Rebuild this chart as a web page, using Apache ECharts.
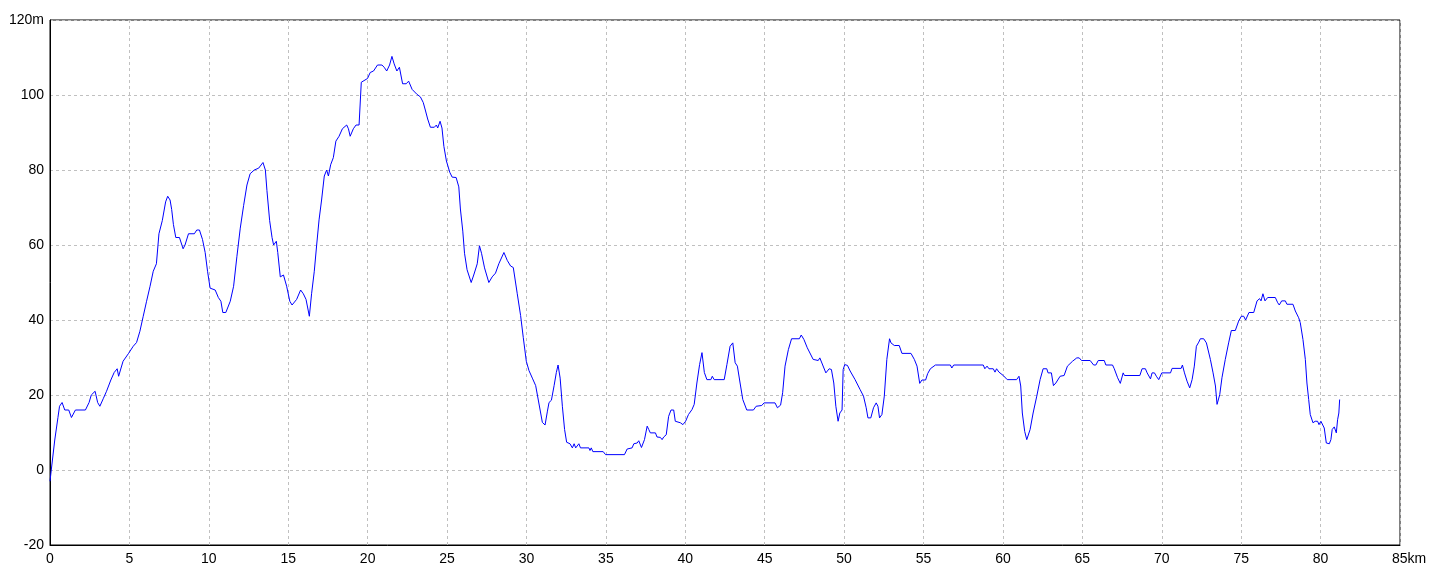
<!DOCTYPE html>
<html>
<head>
<meta charset="utf-8">
<script src="https://cdn.jsdelivr.net/npm/echarts@6/dist/echarts.min.js"></script>
<style>
  html, body { margin: 0; padding: 0; background: #fff; }
  #chart { width: 1440px; height: 576px; }
</style>
</head>
<body>
<div id="chart"></div>
<script>
// Distance along route (km)
const distKm = [
  0, 0.08, 0.3, 0.5, 0.6, 0.76, 0.93, 1.18, 1.35, 1.45,
  1.6, 2.23, 2.46, 2.6, 2.84, 3.0, 3.14, 3.35, 3.56, 3.83,
  4.04, 4.23, 4.32, 4.44, 4.6, 4.93, 5.24, 5.45, 5.66, 5.87,
  6.08, 6.3, 6.5, 6.7, 6.86, 7.07, 7.28, 7.41, 7.56, 7.66,
  7.77, 7.92, 8.15, 8.38, 8.5, 8.72, 9.09, 9.24, 9.41, 9.6,
  9.77, 9.92, 10.08, 10.4, 10.6, 10.76, 10.88, 11.07, 11.35, 11.56,
  11.77, 11.98, 12.19, 12.4, 12.6, 12.86, 13.14, 13.41, 13.56, 13.66,
  13.83, 13.98, 14.08, 14.25, 14.34, 14.5, 14.7, 14.9, 15.1, 15.24,
  15.53, 15.78, 15.95, 16.12, 16.33, 16.47, 16.64, 16.79, 16.94, 17.1,
  17.27, 17.42, 17.53, 17.67, 17.84, 18.0, 18.2, 18.41, 18.68, 18.79,
  18.9, 19.1, 19.27, 19.46, 19.6, 19.99, 20.16, 20.37, 20.62, 20.9,
  21.04, 21.2, 21.38, 21.53, 21.67, 21.84, 22.0, 22.2, 22.43, 22.58,
  22.8, 23.1, 23.32, 23.5, 23.63, 23.78, 23.95, 24.2, 24.33, 24.41,
  24.56, 24.68, 24.8, 24.96, 25.17, 25.32, 25.57, 25.74, 25.84, 25.99,
  26.1, 26.26, 26.52, 26.68, 26.9, 27.04, 27.17, 27.36, 27.63, 27.84,
  28.05, 28.26, 28.58, 28.79, 29.0, 29.17, 29.42, 29.63, 29.8, 29.99,
  30.16, 30.37, 30.58, 30.79, 31.0, 31.17, 31.32, 31.42, 31.57, 31.74,
  31.88, 31.99, 32.12, 32.26, 32.4, 32.53, 32.74, 32.89, 33.0, 33.1,
  33.3, 33.4, 33.93, 34.0, 34.08, 34.18, 34.83, 34.98, 36.17, 36.34,
  36.65, 36.76, 36.97, 37.07, 37.24, 37.43, 37.6, 37.7, 37.8, 38.12,
  38.22, 38.43, 38.54, 38.64, 38.8, 38.95, 39.1, 39.27, 39.37, 39.69,
  39.85, 40.02, 40.2, 40.42, 40.56, 40.73, 40.9, 41.05, 41.2, 41.36,
  41.61, 41.7, 41.82, 42.45, 42.62, 42.82, 42.99, 43.14, 43.28, 43.45,
  43.62, 43.87, 44.29, 44.46, 44.81, 44.96, 45.65, 45.8, 46.0, 46.13,
  46.28, 46.49, 46.69, 47.18, 47.3, 47.47, 47.68, 48.05, 48.37, 48.47,
  48.58, 48.85, 49.06, 49.2, 49.35, 49.48, 49.62, 49.73, 49.87, 49.94,
  50.04, 50.21, 50.38, 50.69, 51.0, 51.22, 51.39, 51.5, 51.68, 51.85,
  52.02, 52.13, 52.23, 52.38, 52.53, 52.69, 52.86, 52.95, 53.16, 53.47,
  53.64, 54.21, 54.42, 54.59, 54.76, 54.9, 55.13, 55.26, 55.43, 55.75,
  56.69, 56.78, 56.9, 58.76, 58.86, 59.0, 59.12, 59.39, 59.5, 59.6,
  59.75, 60.02, 60.27, 60.86, 61.01, 61.12, 61.22, 61.37, 61.5, 61.71,
  61.9, 62.13, 62.34, 62.53, 62.76, 62.84, 63.05, 63.18, 63.33, 63.6,
  63.85, 64.06, 64.38, 64.65, 64.8, 64.95, 65.49, 65.58, 65.71, 65.85,
  66.0, 66.38, 66.48, 66.9, 67.01, 67.22, 67.39, 67.57, 67.65, 68.62,
  68.76, 68.97, 69.08, 69.18, 69.29, 69.39, 69.54, 69.66, 69.81, 70.0,
  70.55, 70.65, 71.22, 71.3, 71.43, 71.59, 71.76, 71.91, 72.05, 72.18,
  72.33, 72.43, 72.64, 72.81, 72.91, 73.06, 73.23, 73.38, 73.48, 73.54,
  73.65, 73.79, 74.0, 74.21, 74.38, 74.63, 74.84, 75.01, 75.16, 75.28,
  75.49, 75.79, 76.0, 76.16, 76.25, 76.37, 76.5, 76.67, 77.15, 77.3,
  77.4, 77.55, 77.78, 77.88, 78.26, 78.41, 78.62, 78.72, 78.89, 79.04,
  79.14, 79.25, 79.35, 79.52, 79.66, 79.81, 79.9, 80.02, 80.13, 80.23,
  80.36, 80.55, 80.65, 80.73, 80.86, 80.99, 81.07, 81.15, 81.2
];

// Elevation (m)
const elevM = [
  -3, 0, 8, 14, 17, 18, 16, 16, 14, 14,
  16, 16, 18, 20, 21, 18, 17, 19, 21, 24,
  26, 27, 25, 25.5, 29, 31, 33, 34, 37, 41,
  45, 49, 53, 55, 63, 66.5, 71.5, 73, 72, 69.5,
  65.5, 62, 62, 59, 60, 63, 63, 64, 64, 61.5,
  58, 53, 48.5, 48, 46, 45, 42, 42, 45, 49,
  57, 64.5, 70.5, 76, 79, 80, 80.5, 82, 80, 74.5,
  66.5, 62, 60, 61, 58, 51.5, 52, 49, 45, 44,
  45.5, 48, 47, 45.5, 41, 47, 53, 60, 66.7, 72,
  78.4, 80, 78.4, 81.4, 83.3, 87.7, 89, 91, 92, 91,
  89, 91, 92, 92, 103.4, 104.4, 106, 106.4, 108, 108,
  107.4, 106.4, 108, 110.3, 108.3, 106.4, 107.4, 103, 103, 103.7,
  101.5, 100.2, 99.5, 98, 96, 93.6, 91.4, 91.4, 92, 91.2,
  93, 91.2, 86.3, 82.4, 79.4, 78.1, 78, 75.5, 69.6, 63.7,
  57.8, 53.4, 50, 52, 55, 59.8, 57.8, 53.9, 50, 51.5,
  52.5, 55, 58, 55.9, 54.4, 54, 47, 41.2, 35.3, 29,
  26.5, 24.5, 22.5, 17.6, 12.7, 12, 15.7, 18, 18.6, 22.5,
  26, 28, 24.5, 17, 10.8, 7.4, 7, 5.9, 7, 5.9,
  7, 5.9, 5.9, 5.2, 5.9, 4.9, 4.9, 4.1, 4.1, 5.6,
  5.9, 7, 7.2, 7.8, 6, 8.1, 11.7, 10.8, 9.9, 9.9,
  8.8, 8.7, 8.1, 8.8, 9.4, 14.3, 16, 16, 13, 12.6,
  12.1, 13, 14.8, 16.1, 17.5, 23.2, 28.1, 31.3, 26, 24.1,
  24.1, 25, 24.1, 24.1, 28.1, 33, 33.9, 28.6, 27.7, 23.2,
  18.8, 16, 16, 17, 17.2, 17.9, 17.9, 16.6, 17.3, 20.6,
  27.7, 32.1, 35, 35, 36, 34.8, 32.6, 29.5, 29.2, 29.9,
  29.5, 25.9, 27, 26.8, 23.2, 17, 13, 15.2, 16, 26.8,
  28.1, 27.9, 26.4, 24.1, 21.5, 19.7, 16.6, 13.9, 13.9, 16.6,
  17.9, 17, 13.9, 14.8, 19.7, 29.5, 35, 33.9, 33.2, 33.2,
  31.1, 31.1, 29.5, 27.7, 23.1, 24, 24, 25.7, 27, 28,
  28, 27.2, 28, 28, 27, 27.7, 27, 27, 26.1, 27,
  26.1, 25.2, 24.1, 24.1, 25, 22.4, 15.2, 10.3, 8.1, 10.8,
  15.2, 19.7, 24.1, 27, 27, 25.9, 25.9, 22.5, 23.2, 25,
  25.2, 27.7, 29, 29.9, 29.9, 29.2, 29.2, 29.7, 28, 28,
  29.2, 29.2, 28, 28, 27, 24.6, 23.1, 25.9, 25.2, 25.2,
  27, 27, 25.9, 25.9, 24.3, 25.9, 25.9, 25, 24.1, 25.9,
  25.9, 27.1, 27.1, 28, 25.9, 23.7, 21.9, 24.1, 27.7, 33,
  34.1, 35, 35, 33.9, 33.9, 29.5, 25.9, 22.4, 17.5, 17,
  20.1, 24.6, 29.5, 33.9, 37.2, 37.2, 39.7, 41, 41, 40,
  42, 42, 45.1, 45.7, 45.1, 47, 45.1, 46, 46, 44.6,
  44, 45.1, 45.1, 44.2, 44.2, 42.4, 40.6, 39.3, 34.8, 29.5,
  23.2, 18.8, 14.8, 12.6, 13, 13, 12.1, 13, 13.4, 11.2,
  7.2, 7, 8.1, 10.8, 11.5, 9.9, 13.4, 15.2, 18.8
];

// Axis ranges / tick settings
const xTicks = { min: 0, max: 85, step: 5, unit: 'km' };
const yTicks = { min: -20, max: 120, step: 20, unit: 'm' };

const points = distKm.map((d, i) => [d, elevM[i]]);

const chart = echarts.init(document.getElementById('chart'), null, { renderer: 'canvas' });
const labelFont = { fontFamily: 'Liberation Sans', fontSize: 14, color: '#000' };
const gridDash = { color: '#c0c0c0', type: [3, 3], width: 1 };

chart.setOption({
  animation: false,
  backgroundColor: '#fff',
  grid: {
    left: 50, right: 40, top: 20, bottom: 31,
    show: true, borderColor: '#000', borderWidth: 1, backgroundColor: '#fff'
  },
  xAxis: {
    type: 'value',
    min: xTicks.min, max: xTicks.max, interval: xTicks.step,
    axisLine: { show: true, onZero: false, lineStyle: { color: '#000', width: 1 } },
    axisTick: { show: false },
    axisLabel: Object.assign({}, labelFont, {
      margin: 7,
      formatter: v => v === xTicks.max ? '{pad|}' + v + xTicks.unit : String(v),
      rich: { pad: { width: 18 } }
    }),
    splitLine: { show: true, lineStyle: gridDash }
  },
  yAxis: {
    type: 'value',
    min: yTicks.min, max: yTicks.max, interval: yTicks.step,
    axisLine: { show: true, onZero: false, lineStyle: { color: '#000', width: 1 } },
    axisTick: { show: false },
    axisLabel: Object.assign({}, labelFont, {
      margin: 6,
      formatter: v => v === yTicks.max ? v + yTicks.unit : String(v)
    }),
    splitLine: { show: true, lineStyle: gridDash }
  },
  series: [{
    type: 'line',
    data: points,
    showSymbol: false,
    symbol: 'none',
    smooth: false,
    lineStyle: { color: '#0000ff', width: 1 },
    silent: true
  }]
});
</script>
</body>
</html>
